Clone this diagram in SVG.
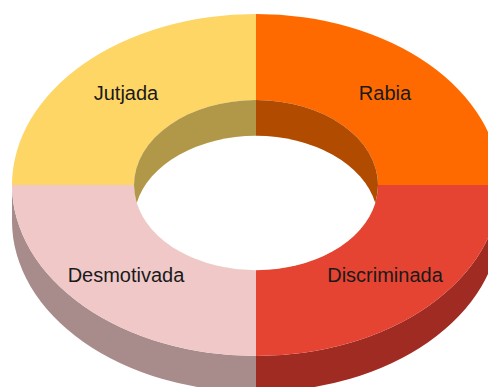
<svg xmlns="http://www.w3.org/2000/svg" width="488" height="387" viewBox="0 0 488 387">
<style>
text{font-family:"Liberation Sans",Arial,sans-serif;font-size:20px;fill:#1a1a1a;text-anchor:middle}
</style>
<rect width="488" height="387" fill="#ffffff"/>
<g id="sides">
<path d="M12,185 A244 171 0 0 0 256,356 L256,392 A244 171 0 0 1 12,221 Z" fill="#a88b8b"/>
<path d="M256,356 A244 171 0 0 0 500,185 L500,221 A244 171 0 0 1 256,392 Z" fill="#a02b23"/>
</g>
<g id="jutjada">
<path d="M12,185 A244 171 0 0 1 256,14 L256,100 A122 85 0 0 0 134,185 Z" fill="#fed666"/>
<text x="126" y="100">Jutjada</text>
</g>
<g id="rabia">
<path d="M256,14 A244 171 0 0 1 500,185 L378,185 A122 85 0 0 0 256,100 Z" fill="#ff6a00"/>
<text x="385" y="100">Rabia</text>
</g>
<g id="discriminada">
<path d="M500,185 A244 171 0 0 1 256,356 L256,270 A122 85 0 0 0 378,185 Z" fill="#e54433"/>
<text x="385" y="282">Discriminada</text>
</g>
<g id="desmotivada">
<path d="M256,356 A244 171 0 0 1 12,185 L134,185 A122 85 0 0 0 256,270 Z" fill="#f0c8c8"/>
<text x="126" y="282">Desmotivada</text>
</g>
<g id="hole">
<path d="M256,100 A122 85 0 0 0 256,270 Z" fill="#b19849"/>
<path d="M256,100 A122 85 0 0 1 256,270 Z" fill="#b04b00"/>
<path d="M136.7,203 A122 85 0 0 1 375.3,203 A122 85 0 0 1 136.7,203 Z" fill="#ffffff"/>
</g>
</svg>
